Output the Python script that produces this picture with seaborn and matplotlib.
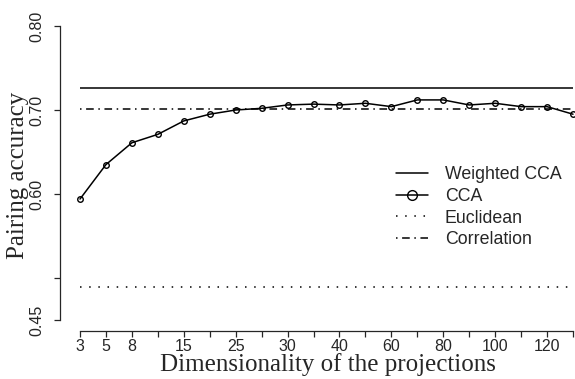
import numpy as np
import pandas as pd
import matplotlib
matplotlib.use("Agg")
import matplotlib.pyplot as plt
import seaborn as sns
from matplotlib.lines import Line2D

# Data
tick_labels = ["3", "5", "8", "", "15", "", "25", "", "30", "", "40", "",
               "60", "", "80", "", "100", "", "120", ""]
cca = [0.594, 0.635, 0.661, 0.671, 0.687, 0.695, 0.700, 0.702, 0.706, 0.707,
       0.706, 0.708, 0.704, 0.712, 0.712, 0.706, 0.708, 0.704, 0.704, 0.695]
weighted_cca = 0.726
euclidean = 0.489
correlation = 0.701
y_ticks = [0.45, 0.50, 0.60, 0.70, 0.80]
y_tick_labels = ["0.45", "", "0.60", "0.70", "0.80"]

df = pd.DataFrame({"pos": np.arange(len(cca)), "acc": cca})

sns.set_style("ticks")
plt.rcParams["font.family"] = ["Liberation Sans", "DejaVu Sans"]

fig = plt.figure(figsize=(5.75, 3.79), dpi=100)
W, H = 575, 379
# axes box in pixel coords: left 60, right 575, top 26, bottom 331
ax_l, ax_r, ax_t, ax_b = 60, 575, 26, 331
ax = fig.add_axes([ax_l / W, 1 - ax_b / H, (ax_r - ax_l) / W, (ax_b - ax_t) / H])

n = len(cca)
px = (573 - 80) / (n - 1)
ax.set_xlim(-(80 - ax_l) / px, (n - 1) + 2 / px)
ax.set_ylim(0.45 - 11 / 840, 0.80)

lw = 1.1
ax.hlines(weighted_cca, 0, n - 1, color="black", lw=lw, linestyles="solid")
ax.hlines(euclidean, 0, n - 1, color="black", lw=lw, linestyles=[(0, (1, 5))])
ax.hlines(correlation, 0, n - 1, color="black", lw=lw, linestyles=[(0, (1, 3, 5, 3))])
sns.lineplot(data=df, x="pos", y="acc", ax=ax, color="black", lw=lw,
             marker="o", markersize=4, markerfacecolor="none",
             markeredgecolor="black", markeredgewidth=1, clip_on=False)

ax.set_xticks(np.arange(n))
ax.set_xticklabels(tick_labels, fontsize=11.5)
ax.set_yticks(y_ticks)
ax.set_yticklabels(y_tick_labels, fontsize=11.5, rotation=90, va="center")
ax.tick_params(axis="x", length=4, width=0.9, pad=1.5, direction="out")
ax.tick_params(axis="y", length=4, width=0.9, pad=7, direction="out")

sns.despine(ax=ax)
ax.spines["left"].set_bounds(0.45, 0.80)
ax.spines["bottom"].set_bounds(0, n - 1)
ax.spines["left"].set_linewidth(0.9)
ax.spines["bottom"].set_linewidth(0.9)

ax.set_xlabel("Dimensionality of the projections", family="Liberation Serif",
              fontsize=18, va="baseline")
ax.xaxis.set_label_coords((328 - ax_l) / (ax_r - ax_l), -(371 - ax_b) / (ax_b - ax_t))
ax.set_ylabel("Pairing accuracy", family="Liberation Serif", fontsize=18,
              va="center")
ax.yaxis.set_label_coords((18 - ax_l) / (ax_r - ax_l), (ax_b - 175) / (ax_b - ax_t))

handles = [
    Line2D([], [], color="black", lw=lw),
    Line2D([], [], color="black", lw=lw, marker="o", markersize=7,
           markerfacecolor="none", markeredgewidth=1),
    Line2D([], [], color="black", lw=lw, linestyle=(0, (1, 5))),
    Line2D([], [], color="black", lw=lw, linestyle=(0, (1, 3, 5, 3))),
]
labels = ["Weighted CCA", "CCA", "Euclidean", "Correlation"]
ax.legend(handles, labels, loc="upper left", bbox_to_anchor=(396 / W, 1 - 166 / H),
          bbox_transform=fig.transFigure, frameon=False, fontsize=12.8,
          handlelength=1.8, handletextpad=0.95, labelspacing=0.27, borderpad=0,
          borderaxespad=0)

fig.savefig("out.png", dpi=100)
